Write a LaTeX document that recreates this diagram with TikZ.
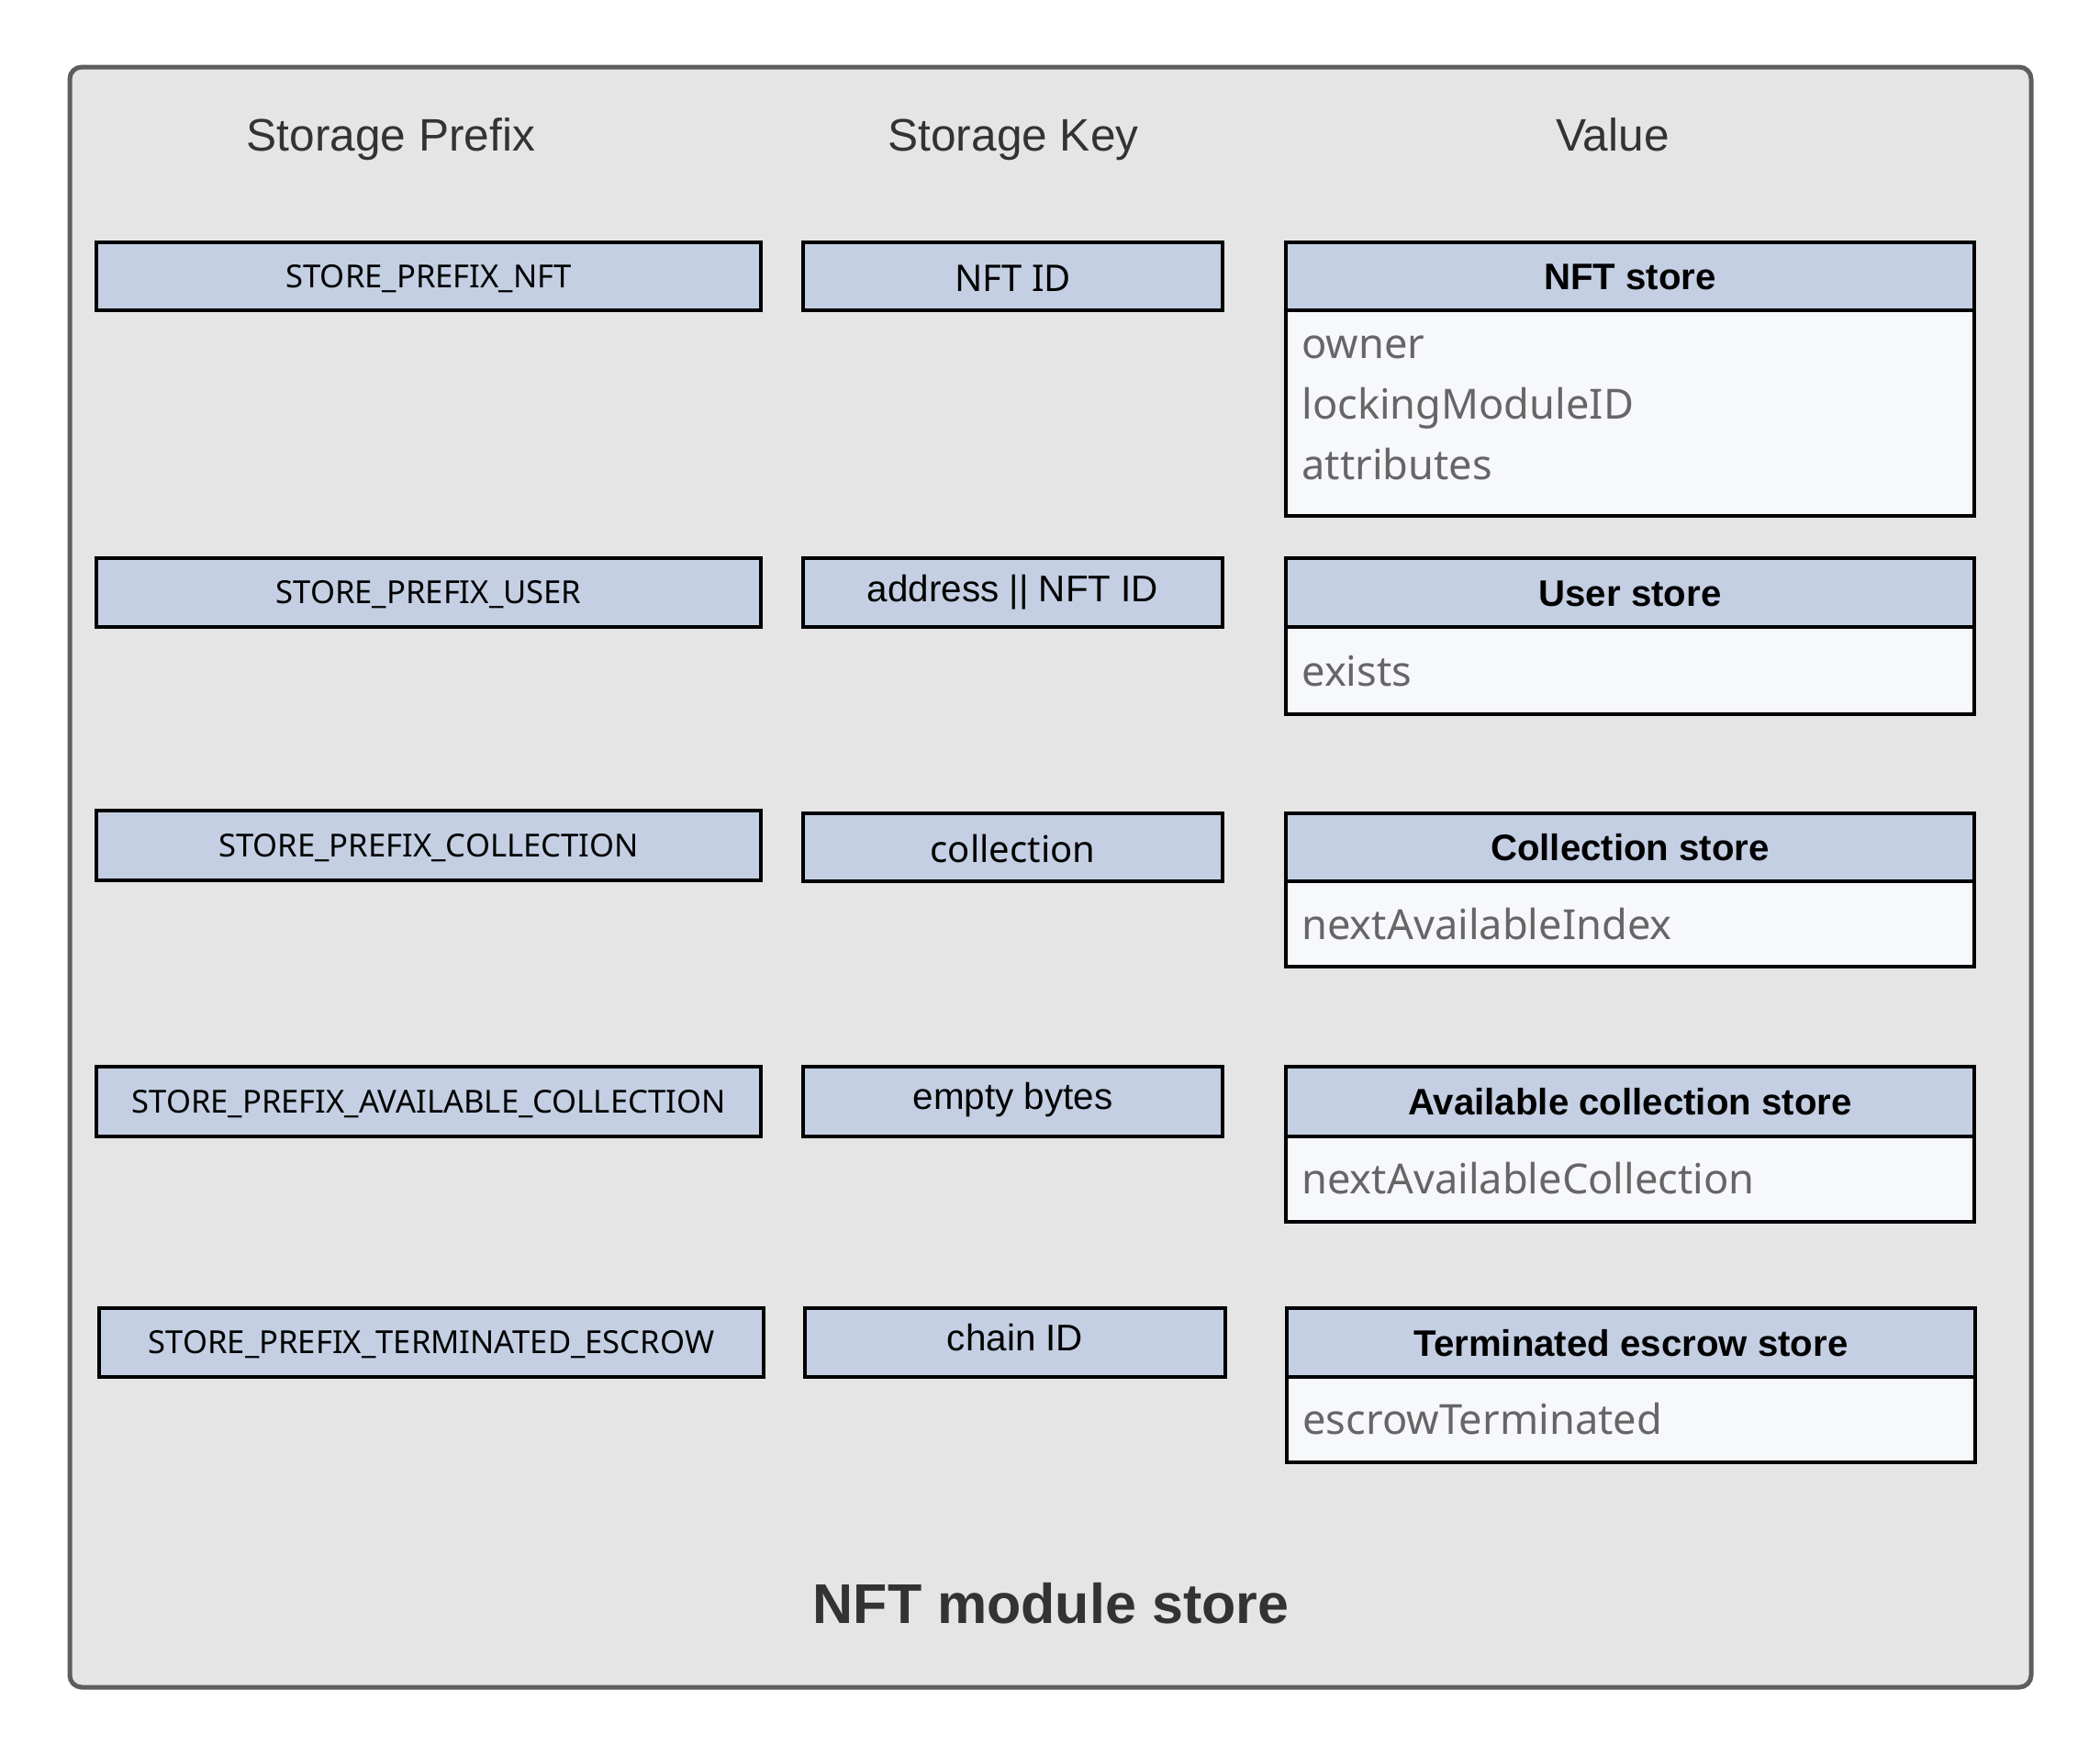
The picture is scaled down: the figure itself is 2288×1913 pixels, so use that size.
\documentclass[tikz,border=0pt]{standalone}
\usepackage{fontspec}
\setmainfont{Noto Sans}
\newfontfamily\arialfont{Liberation Sans}
\definecolor{boxblue}{HTML}{C4CFE3}
\definecolor{bodyfill}{HTML}{F7F8FC}
\definecolor{bgfill}{HTML}{E5E5E5}
\definecolor{outline}{HTML}{5E5E5E}
\definecolor{headtext}{HTML}{333333}
\definecolor{bodytext}{HTML}{666666}
\tikzset{
  outerbox/.style={draw=outline, line width=2.5pt, fill=bgfill, rounded corners=6.5pt, inner sep=0pt,
    minimum width=1068.5pt, minimum height=882.5pt},
  cellbox/.style={draw=black, line width=1.6pt, fill=boxblue, inner sep=0pt, minimum height=37.5pt},
  bodybox/.style={draw=black, line width=1.6pt, fill=bodyfill, inner sep=0pt, minimum width=375pt},
  coltitle/.style={anchor=base, inner sep=0pt, text=headtext, font=\arialfont\fontsize{24.8}{28}\selectfont},
  prefixtxt/.style={anchor=base, inner sep=0pt, text=black, font=\fontsize{17.3}{20}\selectfont},
  keytxt/.style={anchor=base, inner sep=0pt, text=black, font=\fontsize{20}{24}\selectfont},
  keyarial/.style={anchor=base, inner sep=0pt, text=black, font=\arialfont\fontsize{20.2}{24}\selectfont},
  valhead/.style={anchor=base, inner sep=0pt, text=black, font=\arialfont\bfseries\fontsize{20.1}{23}\selectfont},
  fieldtxt/.style={anchor=base west, inner sep=0pt, text=bodytext, font=\fontsize{22.6}{26}\selectfont},
  maintitle/.style={anchor=base, inner sep=0pt, text=headtext, font=\arialfont\bfseries\fontsize{30.5}{34}\selectfont},
}
\begin{document}
\begin{tikzpicture}[x=0.5pt, y=-0.5pt]
\useasboundingbox (0,0) rectangle (2288,1913);
\node[outerbox] (store) at (1144.5,955.5) {};

% column titles
\node[coltitle] (tprefix) at (426,164) {Storage Prefix};
\node[coltitle] (tkey) at (1104,164) {Storage Key};
\node[coltitle] (tvalue) at (1757,164) {Value};

% prefix boxes
\node[cellbox, minimum width=362pt, minimum height=37pt] (p1) at (467,301) {};
\node[cellbox, minimum width=362pt] (p2) at (467,645.5) {};
\node[cellbox, minimum width=362pt, minimum height=38pt] (p3) at (467,921) {};
\node[cellbox, minimum width=362pt, minimum height=38pt] (p4) at (467,1200) {};
\node[cellbox, minimum width=362pt] (p5) at (470,1462.5) {};
\node[prefixtxt] (p1t) at (467,313) {STORE\_PREFIX\_NFT};
\node[prefixtxt] (p2t) at (467,657.5) {STORE\_PREFIX\_USER};
\node[prefixtxt] (p3t) at (467,933) {STORE\_PREFIX\_COLLECTION};
\node[prefixtxt] (p4t) at (467,1212) {STORE\_PREFIX\_AVAILABLE\_COLLECTION};
\node[prefixtxt] (p5t) at (470,1474.5) {STORE\_PREFIX\_TERMINATED\_ESCROW};

% key boxes
\node[cellbox, minimum width=228.5pt, minimum height=37pt] (k1) at (1103.5,301) {};
\node[cellbox, minimum width=228.5pt] (k2) at (1103.5,645.5) {};
\node[cellbox, minimum width=228.5pt, minimum height=37pt] (k3) at (1103.5,923) {};
\node[cellbox, minimum width=228.5pt, minimum height=38pt] (k4) at (1103.5,1200) {};
\node[cellbox, minimum width=229pt] (k5) at (1106,1462.5) {};
\node[keytxt] (k1t) at (1103.5,317) {NFT ID};
\node[keyarial] (k2t) at (1103.5,655) {address || NFT ID};
\node[keytxt] (k3t) at (1103.5,939) {collection};
\node[keyarial] (k4t) at (1103.5,1208) {empty bytes};
\node[keyarial] (k5t) at (1106,1471) {chain ID};

% value boxes: bodies
\node[bodybox, minimum height=112pt] (v1b) at (1776,450) {};
\node[bodybox, minimum height=47.5pt] (v2b) at (1776,730.5) {};
\node[bodybox, minimum height=46.5pt] (v3b) at (1776,1006.5) {};
\node[bodybox, minimum height=46.5pt] (v4b) at (1776,1284.5) {};
\node[bodybox, minimum height=46.5pt] (v5b) at (1777,1546.5) {};
% value boxes: headers
\node[cellbox, minimum width=375pt, minimum height=37pt] (v1h) at (1776,301) {};
\node[cellbox, minimum width=375pt] (v2h) at (1776,645.5) {};
\node[cellbox, minimum width=375pt, minimum height=37pt] (v3h) at (1776,923) {};
\node[cellbox, minimum width=375pt, minimum height=38pt] (v4h) at (1776,1200) {};
\node[cellbox, minimum width=375pt] (v5h) at (1777,1462.5) {};
\node[valhead] (v1ht) at (1776,315.5) {NFT store};
\node[valhead] (v2ht) at (1776,660) {User store};
\node[valhead] (v3ht) at (1776,937.5) {Collection store};
\node[valhead] (v4ht) at (1776,1214.5) {Available collection store};
\node[valhead] (v5ht) at (1777,1477) {Terminated escrow store};
% fields
\node[fieldtxt] (f1a) at (1418,390) {owner};
\node[fieldtxt] (f1b) at (1418,456) {lockingModuleID};
\node[fieldtxt] (f1c) at (1418,522) {attributes};
\node[fieldtxt] (f2a) at (1418,747) {exists};
\node[fieldtxt] (f3a) at (1418,1023) {nextAvailableIndex};
\node[fieldtxt] (f4a) at (1418,1300) {nextAvailableCollection};
\node[fieldtxt] (f5a) at (1419,1562) {escrowTerminated};

% title
\node[maintitle] (title) at (1145,1768) {NFT module store};
\end{tikzpicture}
\end{document}
